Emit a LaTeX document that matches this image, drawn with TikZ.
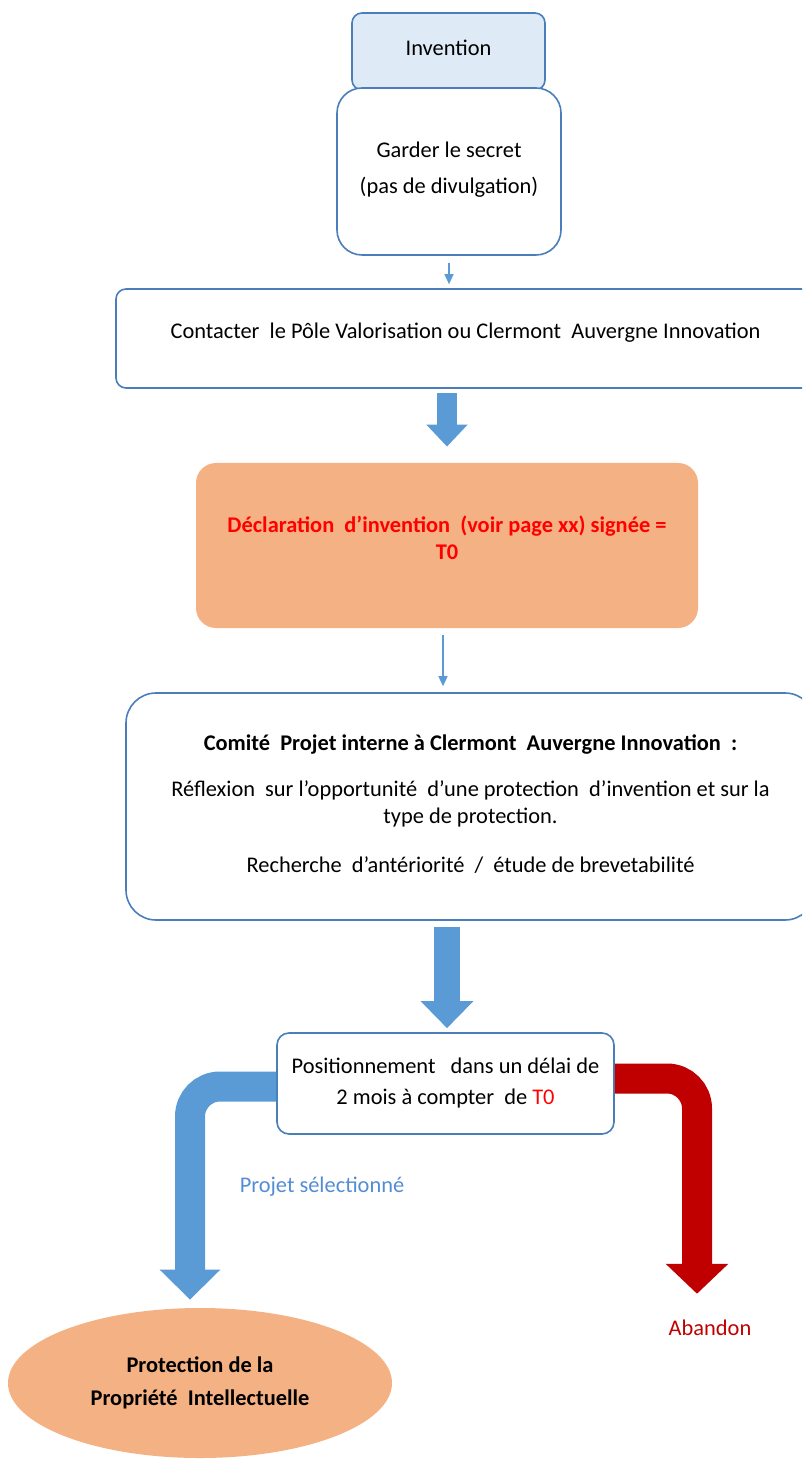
\documentclass[tikz,border=0pt]{standalone}
\usepackage{fontspec}
\setmainfont{Carlito}
\usetikzlibrary{arrows.meta,shapes.geometric}
\definecolor{boxline}{RGB}{74,126,187}
\definecolor{invfill}{RGB}{222,235,247}
\definecolor{arrowblue}{RGB}{91,155,213}
\definecolor{lightorange}{RGB}{244,177,131}
\definecolor{darkred}{RGB}{192,0,0}
\definecolor{textblue}{RGB}{84,141,212}
\definecolor{brightred}{RGB}{255,0,0}
\tikzset{
  txt/.style={font=\fontsize{11.2}{13.5}\selectfont, align=center, inner sep=0pt},
  box/.style={txt, draw=boxline, line width=0.8pt, fill=white},
  thinarrow/.style={draw=arrowblue, line width=0.7pt, -{Triangle[length=5pt, width=4.5pt]}},
  blockarrow/.style n args={3}{line width=#1, -{Triangle[width=#2, length=#3]}},
}
\begin{document}
\begin{tikzpicture}[x=0.5pt, y=-0.5pt]
    % page
    \useasboundingbox (0,0) rectangle (802,1459);
    \clip (0,0) rectangle (802,1459);

    % boxes
    \node[box, fill=invfill, rounded corners=5pt, minimum width=96.5pt, minimum height=38.5pt] (inv) at (448.5,51.5) {};
    \node[txt] at (448.5,48) {Invention};
    \node[box, rounded corners=12.5pt, minimum width=112pt, minimum height=83.5pt] (garder) at (449,171.5)
        {Garder le secret\\[4.5pt](pas de divulgation)\\[-9.5pt]\mbox{}};
    \node[box, rounded corners=5pt, minimum width=349.5pt, minimum height=49.5pt] (contact) at (465.5,338.5)
        {Contacter\ \ le P\^ole Valorisation ou Clermont\ \ Auvergne Innovation\\[-6pt]\mbox{}};
    \node[txt, fill=lightorange, rounded corners=10pt, minimum width=251pt, minimum height=82.5pt,
        text=brightred, font=\fontsize{11.2}{13.5}\selectfont\bfseries] (decl) at (447,545.5)
        {D\'eclaration\ \ d'invention\ \ (voir page xx) sign\'ee\ =\\T0\\[-6pt]\mbox{}};
    \node[box, rounded corners=15pt, minimum width=344.5pt, minimum height=113.5pt] (comite) at (470.5,806.5)
        {\textbf{Comit\'e\ \ Projet interne \`a Clermont\ \ Auvergne Innovation\ \ :}\\[9.5pt]
         R\'eflexion\ \ sur l'opportunit\'e\ \ d'une protection\ \ d'invention et sur la\\
         type de protection.\\[11pt]
         Recherche\ \ d'ant\'eriorit\'e\ \ /\ \ \'etude de brevetabilit\'e\\[-10.5pt]\mbox{}};
    \node[box, rounded corners=6pt, minimum width=168.5pt, minimum height=50.5pt] (pos) at (445.5,1083.5)
        {Positionnement\ \ \ dans un d\'elai de\\[2pt]2 mois \`a compter\ \ de \textcolor{brightred}{T0}};
    \node[txt, ellipse, fill=lightorange, minimum width=192pt, minimum height=75pt,
        font=\fontsize{11.2}{13.5}\selectfont\bfseries] (prot) at (200,1383)
        {Protection de la\\[3pt]Propri\'et\'e\ \ Intellectuelle};
    \node[txt, text=textblue] (sel) at (322,1187) {Projet s\'electionn\'e};
    \node[txt, text=darkred] (aband) at (710,1328) {Abandon};

    % arrows
    \draw[thinarrow, shorten <=3.5pt, shorten >=2pt] (garder.south) -- (garder.south |- contact.north);
    \draw[arrowblue, blockarrow={10pt}{20pt}{11pt}, shorten <=2pt, shorten >=8pt]
        (decl.north |- contact.south) -- (decl.north);
    \draw[thinarrow, shorten <=3.5pt, shorten >=3pt] ([xshift=-2pt]decl.south) -- ([xshift=-2pt]decl.south |- comite.north);
    \draw[arrowblue, blockarrow={13pt}{25.5pt}{13.5pt}, shorten <=3pt, shorten >=2pt]
        (decl.south |- comite.south) -- (decl.south |- pos.north);
    \draw[arrowblue, blockarrow={15pt}{29.5pt}{15pt}, rounded corners=15pt, shorten >=4pt]
        ([yshift=-1.5pt]pos.west) -| ([xshift=-5pt]prot.north);
    \draw[darkred, blockarrow={15pt}{30.5pt}{15pt}, rounded corners=15pt, shorten >=13pt]
        ([yshift=2.5pt]pos.east) -| ([xshift=-6.5pt]aband.north);
\end{tikzpicture}
\end{document}
